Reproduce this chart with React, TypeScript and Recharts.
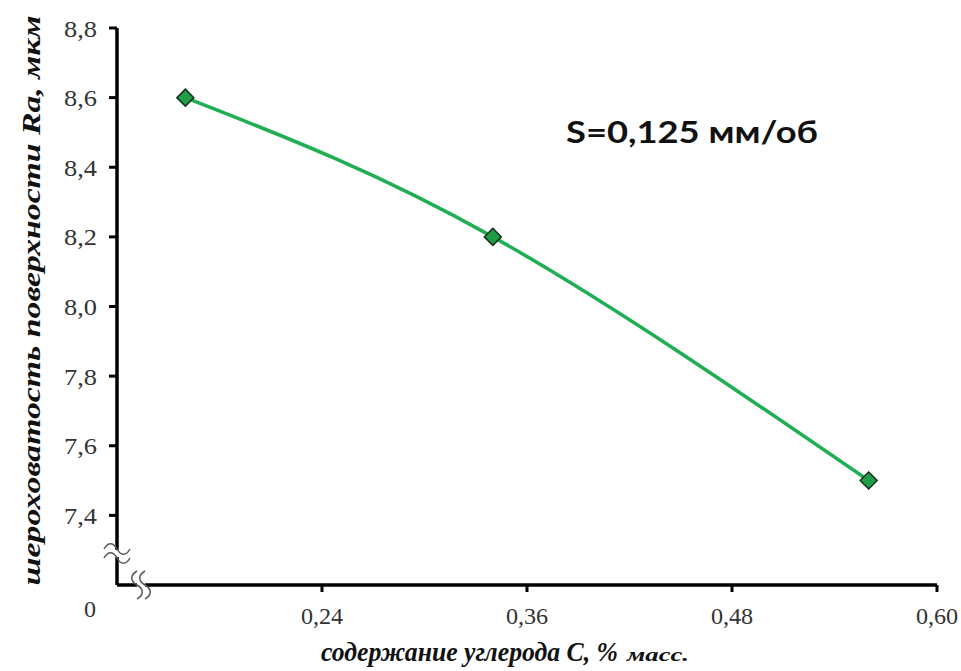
import { LineChart, Line, XAxis, YAxis } from 'recharts';

// содержание углерода, % масс.
const carbon = [0.16, 0.34, 0.56];
// шероховатость Ra, мкм
const roughness = [8.6, 8.2, 7.5];

const xTicks = [0.24, 0.36, 0.48, 0.6];
const yTicks = [7.4, 7.6, 7.8, 8.0, 8.2, 8.4, 8.6, 8.8];

const data = carbon.map((c, i) => ({ c, ra: roughness[i] }));

const SERIF = 'Liberation Serif';

const Diamond = (props: any) => {
  const { cx, cy } = props;
  if (cx == null || cy == null) return null;
  const r = 8.5;
  return (
    <path
      d={`M${cx},${cy - r}L${cx + r},${cy}L${cx},${cy + r}L${cx - r},${cy}Z`}
      fill="#1f9d47"
      stroke="#17301d"
      strokeWidth={1.5}
    />
  );
};

// tick labels, slightly widened like in the scan
const Tick = (props: any) => {
  const { x, y, payload, textAnchor, digits, dy, size, sx } = props;
  return (
    <g transform={`translate(${x},${y}) scale(${sx},1)`}>
      <text x={0} y={0} dy={dy} textAnchor={textAnchor} fontFamily={SERIF} fontSize={size} fill="#333">
        {Number(payload.value).toFixed(digits).replace('.', ',')}
      </text>
    </g>
  );
};

const YTitle = ({ viewBox }: any) => {
  const cy = viewBox.y + viewBox.height / 2;
  return (
    <text
      x={0}
      y={0}
      transform={`translate(40, ${cy - 6}) rotate(-90)`}
      textAnchor="middle"
      fontFamily={SERIF}
      fontStyle="italic"
      fontWeight="bold"
      fontSize={26}
      textLength={570}
      lengthAdjust="spacingAndGlyphs"
      fill="#111"
    >
      шероховатость поверхности Ra, мкм
    </text>
  );
};

const XTitle = () => (
  <g>
    <text x={321} y={661} fontFamily={SERIF} fontStyle="italic" fontWeight="bold" fontSize={28}
      textLength={297} lengthAdjust="spacingAndGlyphs" fill="#111">
      содержание углерода С, %
    </text>
    <text x={627} y={661} fontFamily={SERIF} fontStyle="italic" fontWeight="bold" fontSize={18}
      textLength={62} lengthAdjust="spacingAndGlyphs" fill="#111">
      масс.
    </text>
  </g>
);

export default function App() {
  return (
    <div style={{ position: 'absolute', left: 0, top: 0, width: 961, height: 671, background: '#fff' }}>
      <LineChart width={961} height={671} data={data} margin={{ top: 28, right: 24, left: 0, bottom: 0 }}>
        <XAxis
          type="number"
          dataKey="c"
          domain={[0.12, 0.6]}
          ticks={xTicks}
          height={86}
          axisLine={{ stroke: '#000', strokeWidth: 3.5 }}
          tickLine={{ stroke: '#000', strokeWidth: 3 }}
          tickSize={7}
          tickMargin={16}
          tick={<Tick digits={2} dy="0.71em" size={23} sx={1.05} />}
          label={<XTitle />}
        />
        <YAxis
          type="number"
          dataKey="ra"
          domain={[7.2, 8.8]}
          ticks={yTicks}
          width={117}
          axisLine={{ stroke: '#000', strokeWidth: 3.5 }}
          tickLine={{ stroke: '#000', strokeWidth: 3 }}
          tickSize={8}
          tickMargin={12}
          tick={<Tick digits={1} dy="0.355em" size={24} sx={1.1} />}
          label={<YTitle />}
        />
        <Line
          type="natural"
          dataKey="ra"
          stroke="#1fae52"
          strokeWidth={3.5}
          dot={<Diamond />}
          activeDot={false}
          isAnimationActive={false}
        />
      </LineChart>
      <svg width={961} height={671} style={{ position: 'absolute', left: 0, top: 0, pointerEvents: 'none' }}>
        {/* axis break marks */}
        <rect x={112} y={550} width={11} height={7} fill="#fff" />
        <path d="M104,549 c4,-7 9,-7 13,0 s9,7 13,0" fill="none" stroke="#555" strokeWidth={1.5} />
        <path d="M104,558 c4,-7 9,-7 13,0 s9,7 13,0" fill="none" stroke="#555" strokeWidth={1.5} />
        <rect x={137} y={579} width={8} height={12} fill="#fff" />
        <path d="M137,571 c-7,4 -7,10 0,14 s7,10 0,14" fill="none" stroke="#555" strokeWidth={1.5} />
        <path d="M145,571 c-7,4 -7,10 0,14 s7,10 0,14" fill="none" stroke="#555" strokeWidth={1.5} />
        <text x={90} y={617} textAnchor="middle" fontFamily={SERIF} fontSize={24} fill="#333">0</text>
        <text x={566} y={143} fontFamily="Lato" fontWeight="bold" fontSize={31} textLength={252}
          lengthAdjust="spacingAndGlyphs" fill="#111">
          S=0,125 мм/об
        </text>
      </svg>
    </div>
  );
}
